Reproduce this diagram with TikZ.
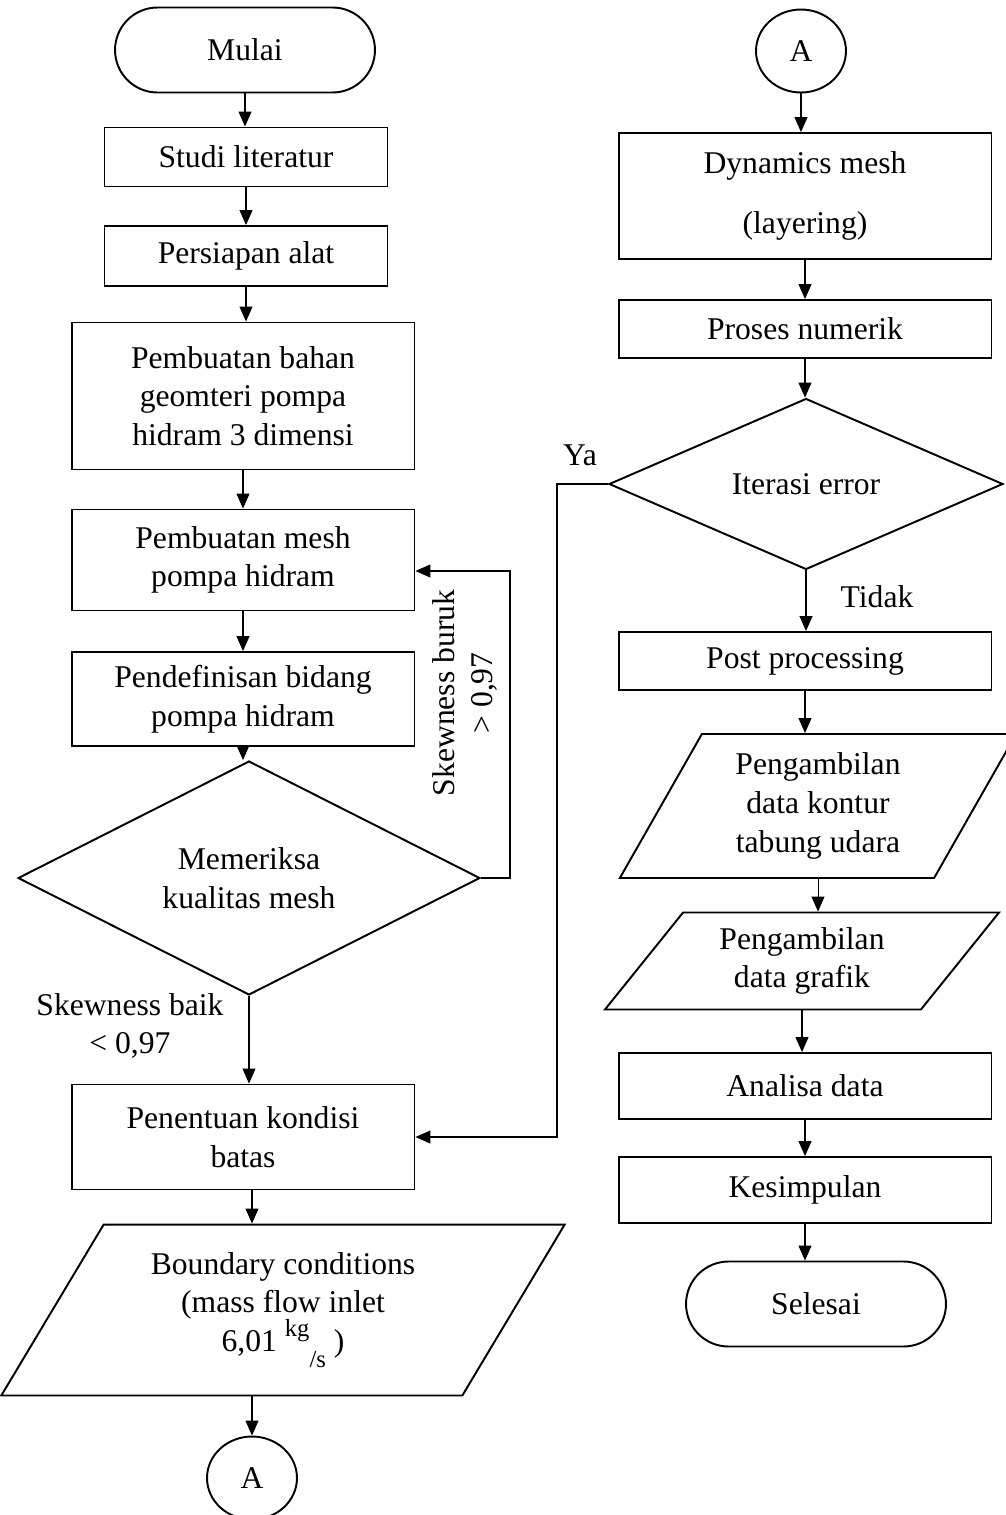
\documentclass[tikz,border=0pt]{standalone}
\usepackage{fontspec}
\setmainfont{Liberation Serif}
\usetikzlibrary{shapes.geometric,arrows.meta}

\begin{document}
\begin{tikzpicture}[x=0.02cm,y=-0.02cm,
    every node/.style={font=\fontsize{18}{22}\selectfont},
    ket/.style={align=center,inner sep=0pt},
    proses/.style={draw,line width=1.1pt,rectangle,align=center,inner sep=0pt},
    terminal/.style={draw,line width=1.1pt,rectangle,rounded corners=0.85cm,minimum width=5.2cm,minimum height=1.7cm},
    keputusan/.style={draw,line width=1.1pt,diamond,align=center,inner sep=0pt},
    data/.style={draw,line width=1.1pt,trapezium,trapezium stretches=true,align=center,inner sep=0pt},
    konektor/.style={draw,line width=1.1pt,ellipse,minimum width=1.8cm,minimum height=1.66cm,inner sep=0pt},
    panah/.style={-{Triangle[length=0.3cm,width=0.26cm]},line width=0.6pt}]
    \useasboundingbox (0,0) rectangle (1005,1515);
    % kolom kiri
    \node[terminal] (mulai) at (245,50) {Mulai};
    \node[proses,minimum width=5.66cm,minimum height=1.18cm] (studi) at (246,157) {Studi literatur};
    \node[proses,minimum width=5.66cm,minimum height=1.2cm] (alat) at (246,256) {Persiapan alat};
    \node[proses,minimum width=6.86cm,minimum height=2.94cm] (geom) at (243,396) {Pembuatan bahan\\geomteri pompa\\hidram 3 dimensi};
    \node[proses,minimum width=6.86cm,minimum height=2.02cm] (mesh) at (243,560) {Pembuatan mesh\\pompa hidram};
    \node[proses,minimum width=6.86cm,minimum height=1.88cm] (bidang) at (243,699) {Pendefinisan bidang\\pompa hidram};
    \node[keputusan,minimum width=9.24cm,minimum height=3.88cm] (cek) at (249,878) {Memeriksa\\kualitas mesh};
    \node[proses,minimum width=6.86cm,minimum height=2.1cm] (batas) at (243,1137) {Penentuan kondisi\\batas};
    \node[data,trapezium left angle=56.8,trapezium right angle=123.2,minimum width=11.28cm,minimum height=3.42cm] (bc) at (283,1310)
      {Boundary conditions\\(mass flow inlet\\6,01 {\fontsize{14}{14}\selectfont\raisebox{1.3ex}{kg}\raisebox{-1.4ex}{/s}} )};
    \node[konektor] (a1) at (252,1478) {A};
    \node[ket] (baik) at (130,1026) {Skewness baik\\< 0,97};
    \node[ket,rotate=90] (buruk) at (465,693) {Skewness buruk\\> 0,97};
    \coordinate (balik) at (510,571);
    % kolom kanan
    \node[konektor] (a2) at (801,51) {A};
    \node[proses,minimum width=7.46cm,minimum height=2.52cm] (dinamis) at (805,196) {Dynamics mesh\\[12pt](layering)};
    \node[proses,minimum width=7.46cm,minimum height=1.16cm] (numerik) at (805,329) {Proses numerik};
    \node[keputusan,minimum width=7.88cm,minimum height=3.42cm] (iterasi) at (806,484) {Iterasi error};
    \node[proses,minimum width=7.46cm,minimum height=1.16cm] (post) at (805,661) {Post processing};
    \node[data,trapezium left angle=61.2,trapezium right angle=118.8,minimum width=7.94cm,minimum height=2.88cm] (kontur) at (818,806) {Pengambilan\\data kontur\\tabung udara};
    \node[data,trapezium left angle=51.2,trapezium right angle=128.8,minimum width=7.9cm,minimum height=1.94cm] (grafik) at (802,961) {Pengambilan\\data grafik};
    \node[proses,minimum width=7.46cm,minimum height=1.32cm] (analisa) at (805,1086) {Analisa data};
    \node[proses,minimum width=7.46cm,minimum height=1.32cm] (simpul) at (805,1190) {Kesimpulan};
    \node[terminal] (selesai) at (816,1304) {Selesai};
    \node[ket] (ya) at (580,455) {Ya};
    \node[ket] (tidak) at (877,597) {Tidak};
    \coordinate (belok) at (557,484);
    % panah kiri
    \draw[panah] (mulai.south) -- (mulai.south |- studi.north);
    \draw[panah] (studi.south) -- (studi.south |- alat.north);
    \draw[panah] (alat.south) -- (alat.south |- geom.north);
    \draw[panah] (geom.south) -- (geom.south |- mesh.north);
    \draw[panah] (mesh.south) -- (mesh.south |- bidang.north);
    \draw[panah] (bidang.south) -- (bidang.south |- cek.north);
    \draw[panah] (cek.east) -| (balik) -- (balik -| mesh.east);
    \draw[panah] (cek.south) -- (cek.south |- batas.north);
    \draw[panah] (a1 |- batas.south) -- (a1 |- bc.north);
    \draw[panah] (a1 |- bc.south) -- (a1.north);
    % panah kanan
    \draw[panah] (a2.south) -- (a2.south |- dinamis.north);
    \draw[panah] (dinamis.south) -- (dinamis.south |- numerik.north);
    \draw[panah] (numerik.south) -- (numerik.south |- iterasi.north);
    \draw[panah] (iterasi.west) -- (belok) |- (batas.east);
    \draw[panah] (iterasi.south) -- (iterasi.south |- post.north);
    \draw[panah] (post.south) -- (post.south |- kontur.north);
    \draw[panah] (kontur.south) -- (kontur.south |- grafik.north);
    \draw[panah] (grafik.south) -- (grafik.south |- analisa.north);
    \draw[panah] (analisa.south) -- (analisa.south |- simpul.north);
    \draw[panah] (simpul.south) -- (simpul.south |- selesai.north);
\end{tikzpicture}
\end{document}
